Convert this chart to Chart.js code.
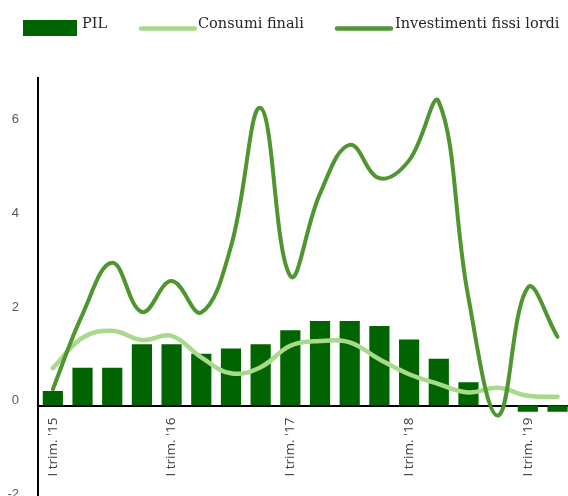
<!DOCTYPE html>
<html>
<head>
<meta charset="utf-8">
<script src="https://cdn.jsdelivr.net/npm/chart.js@4.4.1/dist/chart.umd.min.js"></script>
<style>
  html, body { margin: 0; padding: 0; background: #ffffff; overflow: hidden; }
  #wrap { position: relative; width: 586px; height: 526px; }
</style>
</head>
<body>
<div id="wrap"><canvas id="c"></canvas></div>
<script>
// ---- data ----
const categories = [
  "I trim. '15", "II trim. '15", "III trim. '15", "IV trim. '15",
  "I trim. '16", "II trim. '16", "III trim. '16", "IV trim. '16",
  "I trim. '17", "II trim. '17", "III trim. '17", "IV trim. '17",
  "I trim. '18", "II trim. '18", "III trim. '18", "IV trim. '18",
  "I trim. '19", "II trim. '19"
];
const seriesNames = ["PIL", "Consumi finali", "Investimenti fissi lordi"];
const pil = [0.31, 0.81, 0.81, 1.31, 1.31, 1.11, 1.22, 1.31, 1.61, 1.81, 1.81, 1.70, 1.41, 1.00, 0.50, 0, -0.13, -0.13];
const consumiFinali = [0.80, 1.45, 1.60, 1.40, 1.49, 1.03, 0.69, 0.82, 1.28, 1.38, 1.35, 0.99, 0.67, 0.46, 0.28, 0.38, 0.21, 0.19];
const investimenti = [0.35, 1.95, 3.05, 2.00, 2.66, 1.99, 3.40, 6.36, 2.77, 4.53, 5.57, 4.86, 5.24, 6.49, 2.30, -0.21, 2.52, 1.47];
const yTicks = [-2, 0, 2, 4, 6];

// ---- legend plugin ----
const legendPlugin = {
  id: 'customLegend',
  afterDraw(chart) {
    const ctx = chart.ctx;
    const ds = chart.data.datasets;
    const items = [
      { sx: 23, sw: 54, tx: 82, kind: 'box' },
      { sx: 141, sw: 54, tx: 198, kind: 'line' },
      { sx: 337, sw: 54, tx: 395, kind: 'line' }
    ];
    ctx.save();
    items.forEach((it, i) => {
      const d = ds[i];
      if (it.kind === 'box') {
        ctx.fillStyle = d.backgroundColor;
        ctx.fillRect(it.sx, 20, it.sw, 16);
      } else {
        ctx.strokeStyle = d.borderColor;
        ctx.lineWidth = 4.5;
        ctx.lineCap = 'round';
        ctx.beginPath();
        ctx.moveTo(it.sx, 28.5);
        ctx.lineTo(it.sx + it.sw, 28.5);
        ctx.stroke();
      }
      ctx.fillStyle = '#262626';
      ctx.font = '14.5px "DejaVu Serif"';
      ctx.textBaseline = 'alphabetic';
      ctx.textAlign = 'left';
      ctx.fillText(d.label, it.tx, 27.5);
    });
    ctx.restore();
  }
};

new Chart(document.getElementById('c'), {
  type: 'bar',
  data: {
    labels: categories,
    datasets: [
      {
        type: 'bar',
        label: seriesNames[0],
        data: pil,
        backgroundColor: '#006400',
        borderWidth: 0,
        categoryPercentage: 1,
        barPercentage: 0.68,
        order: 3
      },
      {
        type: 'line',
        label: seriesNames[1],
        data: consumiFinali,
        borderColor: '#a9d98b',
        backgroundColor: '#a9d98b',
        borderWidth: 4.5,
        pointRadius: 0,
        tension: 0.4,
        fill: false,
        borderCapStyle: 'round',
        order: 2
      },
      {
        type: 'line',
        label: seriesNames[2],
        data: investimenti,
        borderColor: '#4f9630',
        backgroundColor: '#4f9630',
        borderWidth: 4,
        pointRadius: 0,
        tension: 0.4,
        fill: false,
        borderCapStyle: 'round',
        order: 1
      }
    ]
  },
  options: {
    responsive: true,
    maintainAspectRatio: false,
    animation: false,
    layout: { padding: { top: 78, left: 0, right: 10, bottom: 11 } },
    plugins: {
      legend: { display: false },
      tooltip: { enabled: false }
    },
    scales: {
      x: {
        type: 'category',
        position: { y: 0 },
        offset: true,
        grid: { display: false, drawTicks: false },
        border: { display: true, color: '#000000', width: 2 },
        ticks: {
          autoSkip: false,
          minRotation: 90,
          maxRotation: 90,
          padding: 12,
          color: '#404040',
          font: { family: '"Open Sans"', size: 13.5 },
          callback: function (value, index) {
            return index % 4 === 0 ? categories[index] : '';
          }
        },
        afterFit: function (scale) { scale.height = 0; }
      },
      y: {
        type: 'linear',
        position: 'left',
        min: -2,
        max: 7,
        grid: { display: false, drawTicks: false },
        border: { display: true, color: '#000000', width: 2 },
        afterFit: function (scale) { scale.width = 38; },
        afterBuildTicks: function (scale) {
          scale.ticks = yTicks.map(v => ({ value: v }));
        },
        ticks: {
          padding: 19,
          labelOffset: -5,
          color: '#595959',
          font: { family: '"Liberation Sans"', size: 13 }
        }
      }
    }
  },
  plugins: [legendPlugin]
});
</script>
</body>
</html>
